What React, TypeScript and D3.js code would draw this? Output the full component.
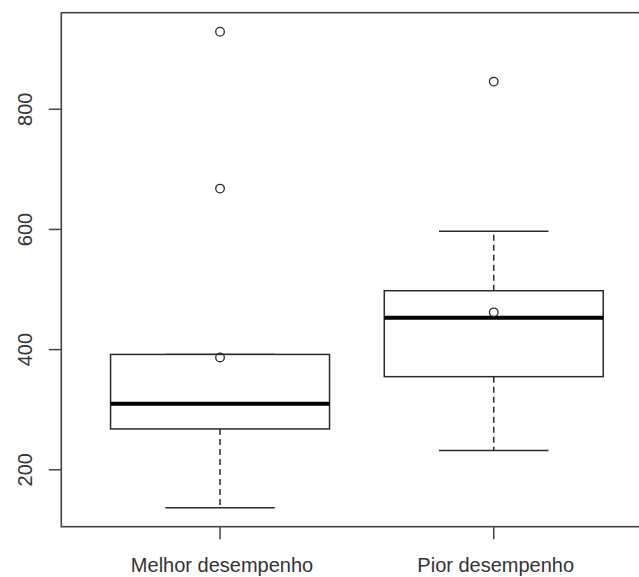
import React, { useEffect, useRef } from 'react'
import * as d3 from 'd3'

// values
const categories = ['Melhor desempenho', 'Pior desempenho']
const q1 = [268, 355]
const medians = [310, 453]
const q3 = [392, 498]
const whiskerLow = [137, 232]
const whiskerHigh = [392, 597]
const means = [387, 462]
const outliers = [[929, 668], [846]]
const yTicks = [200, 400, 600, 800]

export default function App() {
    const ref = useRef<SVGSVGElement>(null)

    useEffect(() => {
        const svg = d3.select(ref.current)
        svg.selectAll('*').remove()

        const width = 639
        const height = 577
        const plot = { left: 61.3, top: 12.7, bottom: 526.7 }

        // R style: range extended by 4%
        const lo = d3.min([...whiskerLow, ...outliers.flat()]) as number
        const hi = d3.max([...whiskerHigh, ...outliers.flat()]) as number
        const pad = (hi - lo) * 0.04

        const y = d3.scaleLinear()
            .domain([lo - pad, hi + pad])
            .range([plot.bottom, plot.top])

        const x = d3.scaleLinear()
            .domain([0.42, 2.58])
            .range([plot.left, plot.left + 2.16 * 273.7])

        const boxHalf = 0.4
        const capHalf = 0.2
        const lineColor = '#2a2a2a'
        const font = 'Liberation Sans, Arial, sans-serif'

        svg.attr('viewBox', `0 0 ${width} ${height}`)

        // plot frame
        svg.append('rect')
            .attr('x', x(0.42))
            .attr('y', y.range()[1])
            .attr('width', x(2.58) - x(0.42))
            .attr('height', y.range()[0] - y.range()[1])
            .attr('fill', 'none')
            .attr('stroke', '#444')
            .attr('stroke-width', 1.6)

        const g = svg.selectAll('g.box')
            .data(categories)
            .join('g')
            .attr('class', 'box')

        // whiskers
        g.append('line')
            .attr('x1', (_, i) => x(i + 1)).attr('x2', (_, i) => x(i + 1))
            .attr('y1', (_, i) => y(q1[i])).attr('y2', (_, i) => y(whiskerLow[i]))
            .attr('stroke', lineColor).attr('stroke-width', 1.5)
            .attr('stroke-dasharray', '6,4')
        g.append('line')
            .attr('x1', (_, i) => x(i + 1)).attr('x2', (_, i) => x(i + 1))
            .attr('y1', (_, i) => y(q3[i])).attr('y2', (_, i) => y(whiskerHigh[i]))
            .attr('stroke', lineColor).attr('stroke-width', 1.5)
            .attr('stroke-dasharray', '6,4')

        // caps
        const caps = [whiskerLow, whiskerHigh]
        caps.forEach(arr => {
            g.append('line')
                .attr('x1', (_, i) => x(i + 1 - capHalf)).attr('x2', (_, i) => x(i + 1 + capHalf))
                .attr('y1', (_, i) => y(arr[i])).attr('y2', (_, i) => y(arr[i]))
                .attr('stroke', lineColor).attr('stroke-width', 1.5)
        })

        // box
        g.append('rect')
            .attr('x', (_, i) => x(i + 1 - boxHalf))
            .attr('width', x(1 + boxHalf) - x(1 - boxHalf))
            .attr('y', (_, i) => y(q3[i]))
            .attr('height', (_, i) => y(q1[i]) - y(q3[i]))
            .attr('fill', 'white')
            .attr('stroke', lineColor).attr('stroke-width', 1.5)

        // median
        g.append('line')
            .attr('x1', (_, i) => x(i + 1 - boxHalf)).attr('x2', (_, i) => x(i + 1 + boxHalf))
            .attr('y1', (_, i) => y(medians[i])).attr('y2', (_, i) => y(medians[i]))
            .attr('stroke', '#000').attr('stroke-width', 4)

        // outliers + means
        const pts = [
            ...outliers.flatMap((o, i) => o.map(v => ({ i, v }))),
            ...means.map((v, i) => ({ i, v })),
        ]
        svg.selectAll('circle.pt')
            .data(pts)
            .join('circle')
            .attr('class', 'pt')
            .attr('cx', d => x(d.i + 1))
            .attr('cy', d => y(d.v))
            .attr('r', 4.3)
            .attr('fill', 'none')
            .attr('stroke', lineColor)
            .attr('stroke-width', 1.3)

        // y axis ticks & labels
        const yAxis = svg.append('g')
        yAxis.selectAll('line')
            .data(yTicks)
            .join('line')
            .attr('x1', plot.left - 12.5).attr('x2', plot.left)
            .attr('y1', d => y(d)).attr('y2', d => y(d))
            .attr('stroke', '#444').attr('stroke-width', 1.5)
        yAxis.selectAll('text')
            .data(yTicks)
            .join('text')
            .attr('transform', d => `translate(32,${y(d)}) rotate(-90)`)
            .attr('text-anchor', 'middle')
            .attr('font-family', font)
            .attr('font-size', 20)
            .attr('fill', '#333')
            .text(d => d)

        // x axis ticks & labels
        const xAxis = svg.append('g')
        xAxis.selectAll('line')
            .data(categories)
            .join('line')
            .attr('x1', (_, i) => x(i + 1)).attr('x2', (_, i) => x(i + 1))
            .attr('y1', plot.bottom).attr('y2', plot.bottom + 12.5)
            .attr('stroke', '#444').attr('stroke-width', 1.5)
        xAxis.selectAll('text')
            .data(categories)
            .join('text')
            .attr('x', (_, i) => x(i + 1) + 2)
            .attr('y', 571.5)
            .attr('text-anchor', 'middle')
            .attr('font-family', font)
            .attr('font-size', 20)
            .attr('fill', '#333')
            .text(d => d)
    }, [])

    return (
        <svg
            ref={ref}
            width={639}
            height={577}
            style={{ position: 'absolute', left: 0, top: 0, background: 'white' }}
        />
    )
}
